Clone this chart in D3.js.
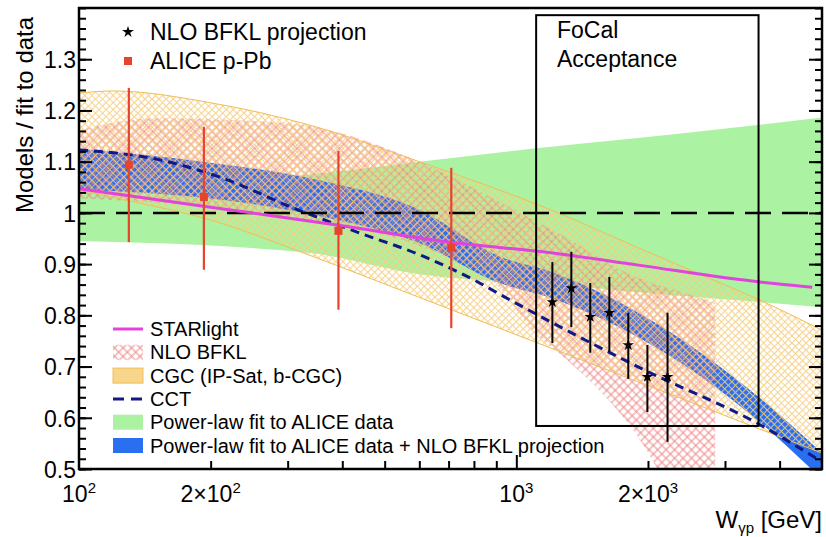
<!doctype html>
<meta charset="utf-8">
<style>
body {
  margin: 0;
  background: #fff;
  font-family: "Liberation Sans", Arial, Helvetica, sans-serif;
}
</style>
<script src="https://cdn.jsdelivr.net/npm/d3@7"></script>
<body>
<script>

var w = 826, h = 537;
var plotL = 79, plotR = 822, plotT = 8, plotB = 469;

// ALICE p-Pb points (W in GeV, ratio, error range)
var aliceW  = [130, 193, 392, 710];
var aliceR  = [1.094, 1.031, 0.965, 0.932];
var aliceLo = [0.943, 0.889, 0.811, 0.775];
var aliceHi = [1.244, 1.168, 1.121, 1.088];

// NLO BFKL projection points
var projW  = [1209, 1336, 1476, 1632, 1803, 1994, 2217];
var projR  = [0.826, 0.853, 0.797, 0.805, 0.742, 0.680, 0.680];
var projLo = [0.746, 0.777, 0.727, 0.729, 0.676, 0.611, 0.553];
var projHi = [0.904, 0.924, 0.863, 0.875, 0.805, 0.742, 0.805];

// STARlight
var starW = [100, 200, 400, 700, 1200, 1900, 3600, 4750];
var starR = [1.047, 1.011, 0.975, 0.943, 0.922, 0.898, 0.865, 0.855];

// CCT
var cctW = [100, 152, 219, 304, 431, 614, 813, 935, 1200, 1923, 3614, 5000];
var cctR = [1.123, 1.104, 1.064, 1.012, 0.963, 0.915, 0.866, 0.837, 0.787, 0.697, 0.586, 0.514];

// NLO BFKL band
var nloW  = [100, 150, 300, 600, 900, 1130, 1250, 1900, 2400, 2850];
var nloHi = [1.162, 1.185, 1.175, 1.100, 1.025, 0.980, 0.960, 0.873, 0.845, 0.824];
var nloLo = [1.028, 1.020, 0.990, 0.935, 0.860, 0.757, 0.727, 0.562, 0.420, 0.350];

// CGC (IP-Sat, b-CGC) band
var cgcW  = [100, 120, 200, 335, 600, 1200, 1900, 2600, 3600, 5000];
var cgcHi = [1.234, 1.238, 1.215, 1.172, 1.100, 1.006, 0.932, 0.882, 0.830, 0.771];
var cgcLo = [1.045, 1.030, 0.986, 0.918, 0.835, 0.736, 0.670, 0.625, 0.578, 0.531];

// power-law fit to ALICE data
var fitW  = [100, 335, 600, 1200, 1900, 3600, 5000];
var fitHi = [1.050, 1.075, 1.100, 1.129, 1.146, 1.172, 1.186];
var fitLo = [0.945, 0.922, 0.880, 0.860, 0.845, 0.826, 0.816];

// power-law fit + NLO BFKL projection
var fit2W  = [100, 200, 335, 600, 915, 1200, 3600, 5000];
var fit2Hi = [1.125, 1.098, 1.068, 1.006, 0.915, 0.885, 0.639, 0.531];
var fit2Lo = [1.045, 1.028, 0.998, 0.941, 0.863, 0.834, 0.592, 0.480];

// FoCal acceptance box
var focalW = [1110, 3580];
var focalR = [0.584, 1.386];

// axes
var yMajor = [0.5, 0.6, 0.7, 0.8, 0.9, 1.0, 1.1, 1.2, 1.3];
var xMinor = [200, 300, 400, 500, 600, 700, 800, 900, 2000, 3000, 4000];
var xMajor = [1000];
var xLabelW = [100, 200, 1000, 2000];
var xLabelMant = ["10", "2\u00d710", "10", "2\u00d710"];
var xLabelExp = ["2", "2", "3", "3"];

var legendNames = ["STARlight", "NLO BFKL", "CGC (IP-Sat, b-CGC)", "CCT",
  "Power-law fit to ALICE data", "Power-law fit to ALICE data + NLO BFKL projection"];

var cGreen = "#abf3a3", cBlue = "#2a6ff0", cMag = "#e044dc", cNavy = "#0f1a86",
    cRed = "#e8432d", cPink = "#ee8686", cCgc = "#f6cd7c";

var x = d3.scaleLog().domain([100, 5000]).range([plotL, plotR]);
var y = d3.scaleLinear().domain([0.5, 1.4]).range([plotB, plotT]);

var svg = d3.select("body")
  .append("svg")
    .attr("width", w)
    .attr("height", h);

var defs = svg.append("defs");

defs.append("clipPath")
    .attr("id", "plot-clip")
  .append("rect")
    .attr("x", plotL).attr("y", plotT)
    .attr("width", plotR - plotL).attr("height", plotB - plotT);

// hatch patterns
var pNlo = defs.append("pattern")
    .attr("id", "hatch-nlo")
    .attr("patternUnits", "userSpaceOnUse")
    .attr("width", 6).attr("height", 6)
    .attr("patternTransform", "rotate(45)");
pNlo.append("path")
    .attr("d", "M0,3H6M3,0V6")
    .attr("stroke", cPink)
    .attr("stroke-width", 1);

var pCgc = defs.append("pattern")
    .attr("id", "hatch-cgc")
    .attr("patternUnits", "userSpaceOnUse")
    .attr("width", 5).attr("height", 5)
    .attr("patternTransform", "rotate(45)");
pCgc.append("path")
    .attr("d", "M0,2.5H5M2.5,0V5")
    .attr("stroke", cCgc)
    .attr("stroke-width", 1.1)
    .attr("stroke-opacity", 0.85);

function band(ws, lo, hi) {
  return ws.map(function(d, i) { return {w: d, lo: lo[i], hi: hi[i]}; });
}
var area = d3.area()
    .x(function(d) { return x(d.w); })
    .y0(function(d) { return y(d.lo); })
    .y1(function(d) { return y(d.hi); })
    .curve(d3.curveMonotoneX);
var line = d3.line()
    .x(function(d) { return x(d.w); })
    .y(function(d) { return y(d.v); })
    .curve(d3.curveMonotoneX);
function pts(ws, vs) {
  return ws.map(function(d, i) { return {w: d, v: vs[i]}; });
}

var plot = svg.append("g").attr("clip-path", "url(#plot-clip)");

plot.append("path")
    .attr("d", area(band(fitW, fitLo, fitHi)))
    .style("fill", cGreen);

plot.append("path")
    .attr("d", area(band(fit2W, fit2Lo, fit2Hi)))
    .style("fill", cBlue);

plot.append("path")
    .attr("d", area(band(nloW, nloLo, nloHi)))
    .style("fill", "url(#hatch-nlo)");

plot.append("path")
    .attr("d", area(band(cgcW, cgcLo, cgcHi)))
    .style("fill", "url(#hatch-cgc)");
plot.append("path")
    .attr("d", line(pts(cgcW, cgcHi)))
    .style("fill", "none").style("stroke", "#f2bd55").style("stroke-width", 1);
plot.append("path")
    .attr("d", line(pts(cgcW, cgcLo)))
    .style("fill", "none").style("stroke", "#f2bd55").style("stroke-width", 1);

plot.append("path")
    .attr("d", line(pts(cctW, cctR)))
    .style("fill", "none")
    .style("stroke", cNavy)
    .style("stroke-width", 3)
    .style("stroke-dasharray", "9,6");

// unity line
plot.append("line")
    .attr("x1", plotL).attr("x2", plotR)
    .attr("y1", y(1)).attr("y2", y(1))
    .style("stroke", "#000")
    .style("stroke-width", 2.5)
    .style("stroke-dasharray", "26,11");

plot.append("path")
    .attr("d", line(pts(starW, starR)))
    .style("fill", "none")
    .style("stroke", cMag)
    .style("stroke-width", 3);

// FoCal box
svg.append("rect")
    .attr("x", x(focalW[0]))
    .attr("y", y(focalR[1]))
    .attr("width", x(focalW[1]) - x(focalW[0]))
    .attr("height", y(focalR[0]) - y(focalR[1]))
    .style("fill", "none")
    .style("stroke", "#000")
    .style("stroke-width", 2);

svg.append("text")
    .attr("x", 557).attr("y", 38)
    .style("font-size", "23px")
    .text("FoCal");
svg.append("text")
    .attr("x", 557).attr("y", 67)
    .style("font-size", "23px")
    .text("Acceptance");

// ALICE points
var alice = svg.append("g");
aliceW.forEach(function(d, i) {
  alice.append("line")
      .attr("x1", x(d)).attr("x2", x(d))
      .attr("y1", y(aliceLo[i])).attr("y2", y(aliceHi[i]))
      .style("stroke", cRed).style("stroke-width", 2.2);
  alice.append("rect")
      .attr("x", x(d) - 4).attr("y", y(aliceR[i]) - 4)
      .attr("width", 8).attr("height", 8)
      .style("fill", cRed);
});

// projection points
var star = d3.symbol().type(d3.symbolStar).size(42);
var proj = svg.append("g");
projW.forEach(function(d, i) {
  proj.append("line")
      .attr("x1", x(d)).attr("x2", x(d))
      .attr("y1", y(projLo[i])).attr("y2", y(projHi[i]))
      .style("stroke", "#000").style("stroke-width", 2);
  proj.append("path")
      .attr("d", star())
      .attr("transform", "translate(" + x(d) + "," + y(projR[i]) + ")")
      .style("fill", "#000");
});

// axes
function styleAxis(g) {
  g.select(".domain").remove();
  g.selectAll(".tick line").style("stroke", "#000").style("stroke-width", 2);
}

svg.append("g")
    .attr("transform", "translate(" + plotL + ",0)")
    .call(d3.axisLeft(y).tickValues(y.ticks(45)).tickSize(-7).tickFormat(""))
    .call(styleAxis);
svg.append("g")
    .attr("transform", "translate(" + plotL + ",0)")
    .call(d3.axisLeft(y).tickValues(yMajor).tickSize(-13).tickPadding(3).tickFormat(d3.format("~g")))
    .call(styleAxis)
    .selectAll("text")
      .style("font-size", "23px")
      .style("font-family", "Liberation Sans, Arial, sans-serif")
      .attr("dy", "0.36em");

svg.append("g")
    .attr("transform", "translate(" + plotR + ",0)")
    .call(d3.axisRight(y).tickValues(y.ticks(45)).tickSize(-7).tickFormat(""))
    .call(styleAxis);
svg.append("g")
    .attr("transform", "translate(" + plotR + ",0)")
    .call(d3.axisRight(y).tickValues(yMajor).tickSize(-13).tickFormat(""))
    .call(styleAxis);

svg.append("g")
    .attr("transform", "translate(0," + plotB + ")")
    .call(d3.axisBottom(x).tickValues(xMinor).tickSize(-8).tickFormat(""))
    .call(styleAxis);
svg.append("g")
    .attr("transform", "translate(0," + plotB + ")")
    .call(d3.axisBottom(x).tickValues(xMajor).tickSize(-14).tickFormat(""))
    .call(styleAxis);

// frame
svg.append("rect")
    .attr("x", plotL).attr("y", plotT)
    .attr("width", plotR - plotL).attr("height", plotB - plotT)
    .style("fill", "none")
    .style("stroke", "#000")
    .style("stroke-width", 2.5);

// x tick labels with exponents
xLabelW.forEach(function(d, i) {
  var t = svg.append("text")
      .attr("x", x(d)).attr("y", 502)
      .attr("text-anchor", "middle")
      .style("font-size", "23px");
  t.append("tspan").text(xLabelMant[i]);
  t.append("tspan").attr("dy", -9).style("font-size", "15px").text(xLabelExp[i]);
});

// axis titles
var xt = svg.append("text")
    .attr("x", plotR).attr("y", 528)
    .attr("text-anchor", "end")
    .style("font-size", "24px");
xt.append("tspan").text("W");
xt.append("tspan").attr("dy", 5).style("font-size", "15px").text("\u03b3p");
xt.append("tspan").attr("dy", -5).text(" [GeV]");

svg.append("text")
    .attr("transform", "translate(33,213) rotate(-90)")
    .style("font-size", "24px")
    .text("Models / fit to data");

// top legend
svg.append("path")
    .attr("d", star())
    .attr("transform", "translate(128,32)")
    .style("fill", "#000");
svg.append("text")
    .attr("x", 150).attr("y", 40)
    .style("font-size", "23px")
    .text("NLO BFKL projection");
svg.append("rect")
    .attr("x", 124).attr("y", 57).attr("width", 8).attr("height", 8)
    .style("fill", cRed);
svg.append("text")
    .attr("x", 150).attr("y", 69)
    .style("font-size", "23px")
    .text("ALICE p-Pb");

// bottom legend
var lg = svg.append("g");
var row0 = 329, rowH = 23.3, sx = 113, sw = 30;
legendNames.forEach(function(name, i) {
  var cy = row0 + i * rowH;
  lg.append("text")
      .attr("x", 150).attr("y", cy + 7)
      .style("font-size", "20px")
      .text(name);
  if (i === 0) {
    lg.append("line").attr("x1", sx).attr("x2", sx + sw).attr("y1", cy).attr("y2", cy)
        .style("stroke", cMag).style("stroke-width", 3);
  } else if (i === 3) {
    lg.append("line").attr("x1", sx).attr("x2", sx + sw).attr("y1", cy).attr("y2", cy)
        .style("stroke", cNavy).style("stroke-width", 3).style("stroke-dasharray", "11,7");
  } else {
    var fill = [null, "url(#hatch-nlo)", "#f7d68c", null, cGreen, cBlue][i];
    lg.append("rect")
        .attr("x", sx).attr("y", cy - 7.5).attr("width", sw).attr("height", 15)
        .style("fill", fill)
        .style("stroke", i === 2 ? "#f2bd55" : "none")
        .style("stroke-width", 1);
  }
});

</script>
